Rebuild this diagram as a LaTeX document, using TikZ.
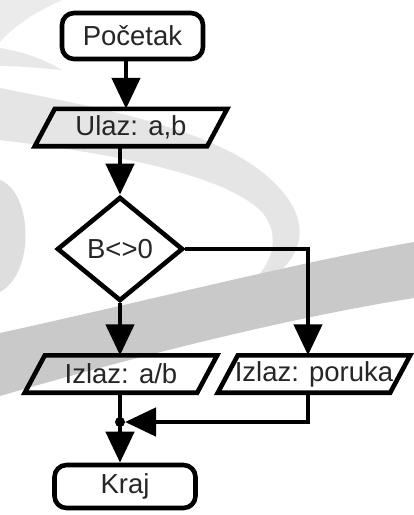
\documentclass[tikz,border=0pt]{standalone}
\usepackage{fontspec}
\setmainfont{Liberation Sans}
\usetikzlibrary{shapes.geometric,arrows.meta}

\tikzset{
  outline/.style={draw=black, line width=4.6pt},
  term/.style={outline, rectangle, rounded corners=12pt, inner sep=0pt,
    minimum width=141pt, minimum height=46pt},
  io/.style={rectangle, inner sep=0pt, minimum width=172pt, minimum height=37pt},
  ioline/.style={outline, line join=miter},
  decision/.style={outline, diamond, inner sep=0pt, minimum width=126pt, minimum height=104pt},
  arr/.style={line width=4.6pt, -{Triangle[length=31pt, width=28pt]}},
  link/.style={line width=4.6pt},
  label/.style={font=\fontsize{27.5}{31}\selectfont, text=black!85},
}
% parallelogram drawn around an invisible io node
\newcommand\ioframe[1]{%
  \draw[ioline] ([xshift=-10pt]#1.south west) -- ([xshift=-10pt]#1.south east)
    -- ([xshift=10pt]#1.north east) -- ([xshift=10pt]#1.north west) -- cycle;}

\begin{document}
\begin{tikzpicture}[x=1pt, y=-1pt]
  \useasboundingbox (0,0) rectangle (414,515);
  \fill[white] (0,0) rectangle (414,515);

  % faint swoosh watermark behind the chart
  \fill[black!8] (0,0) -- (62,0) .. controls (35,12) and (14,26) .. (0,42) -- cycle;
  \fill[black!9] (0,48) .. controls (25,52) and (45,60) .. (62,70)
    .. controls (40,68) and (20,66) .. (0,66) -- cycle;
  \fill[black!10] (0,88) .. controls (120,112) and (250,135) .. (292,205)
    .. controls (312,240) and (292,276) .. (240,292)
    .. controls (274,268) and (282,236) .. (262,212)
    .. controls (222,172) and (100,152) .. (0,140) -- cycle;
  \fill[black!13] (0,180) .. controls (32,192) and (36,272) .. (0,292) -- cycle;
  \fill[black!21] (0,333) .. controls (150,300) and (300,262) .. (414,242)
    -- (414,298) .. controls (300,316) and (150,352) .. (0,396) -- cycle;

  % nodes
  \node[term, label] (start) at (132.5,36) {Početak};
  \node[io, label] (ulaz) at (131,127.5) {Ulaz: a,b};
  \ioframe{ulaz}
  \node[decision, label] (dec) at (120,249) {B<>0};
  \node[io, label] (ab) at (121,374) {Izlaz: a/b};
  \ioframe{ab}
  \node[io, label] (por) at (314,374) {Izlaz: poruka};
  \ioframe{por}
  \node[term, label, minimum height=43pt] (end) at (125,486.5) {Kraj};
  \coordinate (j) at (120,422);

  % connectors
  \draw[arr] ([xshift=-6.5pt]start.south) -- ([xshift=-6.5pt]start.south |- ulaz.north);
  \draw[arr] (ulaz.south -| dec.north) -- (dec.north);
  \draw[arr] (dec.south) -- (dec.south |- ab.north);
  \draw[arr] (dec.east) -| ([xshift=-6pt]por.north);
  \draw[link] (ab.south -| j) -- (j);
  \draw[arr] (j) -- (j |- end.north);
  \draw[arr, shorten >=5pt] ([xshift=-6pt]por.south) |- (j);
  \fill (j) circle (5pt);
\end{tikzpicture}
\end{document}
